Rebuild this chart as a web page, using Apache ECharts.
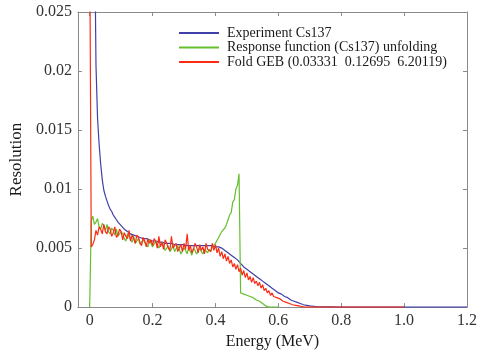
<!DOCTYPE html>
<html>
<head>
<meta charset="utf-8">
<script src="https://cdn.jsdelivr.net/npm/echarts@6/dist/echarts.min.js"></script>
<style>
  html, body { margin: 0; padding: 0; background: #fff; }
  #chart { width: 480px; height: 355px; }
</style>
</head>
<body>
<div id="chart"></div>
<script>
// channel grid, 0.005 MeV per channel
const step = 0.005;
const energy = Array.from({ length: 201 }, (_, i) => +(i * step).toFixed(3));

// tick labels
const xTicks = [0, 0.2, 0.4, 0.6, 0.8, 1.0, 1.2];
const xTickLabels = ['0', '0.2', '0.4', '0.6', '0.8', '1.0', '1.2'];
const yTicks = [0, 0.005, 0.01, 0.015, 0.02, 0.025];
const yTickLabels = ['0', '0.005', '0.01', '0.015', '0.02', '0.025'];

const names = [
  'Experiment Cs137',
  'Response function (Cs137) unfolding',
  'Fold GEB (0.03331  0.12695  6.20119)'
];

// Experiment Cs137 (own energies)
const blueEnergy = [
  0.015, 0.02, 0.025, 0.03, 0.035, 0.04, 0.045, 0.05, 0.055, 0.06,
  0.065, 0.07, 0.075, 0.08, 0.085, 0.09, 0.095, 0.1, 0.105, 0.11,
  0.115, 0.12, 0.125, 0.13, 0.135, 0.14,
  0.15, 0.16, 0.17, 0.18, 0.19, 0.2, 0.21, 0.22, 0.23, 0.24,
  0.25, 0.26, 0.27, 0.28, 0.29, 0.3, 0.31, 0.32, 0.33, 0.34,
  0.35, 0.36, 0.37, 0.38, 0.39, 0.4, 0.41, 0.42, 0.43, 0.44,
  0.45, 0.46, 0.47, 0.48, 0.49, 0.5, 0.51, 0.52, 0.53, 0.54,
  0.55, 0.56, 0.57, 0.58, 0.59, 0.6, 0.61, 0.62, 0.63, 0.64,
  0.65, 0.66, 0.67, 0.68, 0.69, 0.7,
  0.72, 0.74, 0.76, 0.8, 0.9, 1.0, 1.1, 1.2
];
const blueValue = [
  0.034, 0.0205, 0.0160, 0.0138, 0.0121, 0.0108, 0.0099, 0.0094, 0.0090, 0.0086,
  0.0083, 0.0081, 0.0078, 0.0076, 0.0074, 0.0072, 0.0071, 0.0069, 0.0068, 0.0066,
  0.0065, 0.0064, 0.0063, 0.0062, 0.0062, 0.0061,
  0.0060, 0.0059, 0.0058, 0.0058, 0.0057, 0.0056, 0.0056, 0.0055, 0.0055, 0.0054,
  0.0054, 0.0054, 0.0053, 0.0053, 0.0053, 0.0053, 0.0052, 0.0052, 0.0052, 0.0052,
  0.0052, 0.0052, 0.0052, 0.0052, 0.0052, 0.0051, 0.0051, 0.0050, 0.0048, 0.0046,
  0.0044, 0.0042, 0.0040, 0.0037, 0.0034, 0.0032, 0.0030, 0.0028, 0.0026, 0.0024,
  0.0022, 0.0020, 0.0018, 0.0016, 0.0014, 0.0012, 0.0011, 0.0009, 0.0008, 0.0006,
  0.0005, 0.0004, 0.0003, 0.0002, 0.00015, 0.0001,
  0.00005, 0.00003, 0.00002, 0, 0, 0, 0, 0
];

// Response function unfolding, channels 0 .. 0.6 MeV
const greenValue = [
  0, 0.0073, 0.0077, 0.0070, 0.0072, 0.0075, 0.0068, 0.0066, 0.0071, 0.0069,
  0.0065, 0.0070, 0.0064, 0.0062, 0.0067, 0.0065, 0.0061, 0.0066, 0.0060, 0.0059,
  0.0064, 0.0062, 0.0058, 0.0056, 0.0062, 0.0060, 0.0057, 0.0055, 0.0060, 0.0054,
  0.0056, 0.0058, 0.0053, 0.0052, 0.0057, 0.0055, 0.0053, 0.0051, 0.0057, 0.0054,
  0.0051, 0.0050, 0.0056, 0.0053, 0.0050, 0.0049, 0.0055, 0.0052, 0.0048, 0.0050,
  0.0052, 0.0047, 0.0049, 0.0053, 0.0047, 0.0046, 0.0052, 0.0049, 0.0045, 0.0046,
  0.0050, 0.0048, 0.0045, 0.0051, 0.0047, 0.0044, 0.0050, 0.0048, 0.0045, 0.0044,
  0.0050, 0.0047, 0.0045, 0.0049, 0.0050, 0.0046, 0.0049, 0.0047, 0.0051, 0.0050,
  0.0054, 0.0053, 0.0059, 0.0058, 0.0064, 0.0063, 0.0067, 0.0070, 0.0069, 0.0078,
  0.0080, 0.0089, 0.0091, 0.0100, 0.0103, 0.0113, 0.0012, 0.0012, 0.0011, 0.0011,
  0.0010, 0.0010, 0.0009, 0.0008, 0.0008, 0.0007, 0.0006, 0.0005, 0.0005, 0.0004,
  0.0003, 0.0002, 0.0001, 0.00005, 0, 0, 0, 0, 0, 0, 0
];

// Fold GEB, channels 0 .. 0.75 MeV, then flat tail
const redValue = [
  0.032, 0.0051, 0.0053, 0.0057, 0.0065, 0.0061, 0.0068, 0.0066, 0.0062, 0.0070,
  0.0064, 0.0062, 0.0068, 0.0066, 0.0060, 0.0063, 0.0068, 0.0059, 0.0061, 0.0066,
  0.0064, 0.0057, 0.0063, 0.0060, 0.0058, 0.0065, 0.0056, 0.0061, 0.0058, 0.0054,
  0.0061, 0.0059, 0.0055, 0.0052, 0.0059, 0.0056, 0.0051, 0.0058, 0.0054, 0.0057,
  0.0052, 0.0058, 0.0056, 0.0050, 0.0060, 0.0051, 0.0055, 0.0049, 0.0057, 0.0054,
  0.0050, 0.0048, 0.0060, 0.0050, 0.0052, 0.0054, 0.0047, 0.0050, 0.0053, 0.0047,
  0.0054, 0.0049, 0.0062, 0.0048, 0.0052, 0.0046, 0.0049, 0.0054, 0.0051, 0.0046,
  0.0053, 0.0048, 0.0051, 0.0045, 0.0054, 0.0049, 0.0050, 0.0047, 0.0054, 0.0048,
  0.0053, 0.0046, 0.0050, 0.0043, 0.0047, 0.0041, 0.0045, 0.0039, 0.0043, 0.0037,
  0.0040, 0.0034, 0.0037, 0.0032, 0.0036, 0.0030, 0.0033, 0.0027, 0.0031, 0.0025,
  0.0029, 0.0023, 0.0026, 0.0021, 0.0025, 0.0020, 0.0022, 0.0018, 0.0021, 0.0016,
  0.0019, 0.0014, 0.0016, 0.0012, 0.0014, 0.0010, 0.0012, 0.0009, 0.0010, 0.0008,
  0.0009, 0.0007, 0.0007, 0.0005, 0.0006, 0.0004, 0.0004, 0.0003, 0.0003, 0.0002,
  0.0002, 0.00015, 0.0001, 0.0001, 0.00005, 0.00005, 0, 0, 0, 0,
  0, 0, 0, 0, 0, 0, 0, 0, 0, 0, 0
];
const redTailEnergy = [0.8, 0.9, 1.0];
const redTailValue = [0, 0, 0];

const colors = ['#4040a8', '#66bf2e', '#fa2c14'];
const font = 'Liberation Serif';
const axisGray = '#8a8a8a';

function pickLabel(ticks, labels) {
  return (v) => {
    const i = ticks.findIndex((t) => Math.abs(t - v) < 1e-9);
    return i >= 0 ? labels[i] : '';
  };
}

function frameAxis(pos, ticks, min, max) {
  return {
    type: 'value', position: pos, min: min, max: max,
    axisLine: { show: true, onZero: false, lineStyle: { color: axisGray, width: 1 } },
    axisTick: { show: true, inside: true, length: 4, customValues: ticks, lineStyle: { color: axisGray } },
    axisLabel: { show: false },
    splitLine: { show: false }
  };
}

const chart = echarts.init(document.getElementById('chart'));

const option = {
  animation: false,
  backgroundColor: '#fff',
  color: colors,
  textStyle: { fontFamily: font },
  grid: { left: 72, right: 12, top: 12, bottom: 44 },
  legend: {
    orient: 'vertical',
    left: 173,
    top: 21,
    itemWidth: 40,
    itemHeight: 14,
    itemGap: 0.5,
    data: names,
    itemStyle: { opacity: 0 },
    textStyle: { fontFamily: font, fontSize: 14, color: '#1a1a1a', padding: [0, 0, 0, 3] }
  },
  xAxis: [
    {
      type: 'value', min: -0.0375, max: 1.2, position: 'bottom',
      name: 'Energy (MeV)', nameLocation: 'middle', nameGap: 26,
      nameTextStyle: { fontFamily: font, fontSize: 16, color: '#1a1a1a' },
      axisLine: { show: true, onZero: false, lineStyle: { color: axisGray, width: 1 } },
      axisTick: { show: true, inside: true, length: 4, customValues: xTicks, lineStyle: { color: axisGray } },
      axisLabel: {
        customValues: xTicks, margin: 6,
        formatter: pickLabel(xTicks, xTickLabels),
        fontFamily: font, fontSize: 16, color: '#333'
      },
      splitLine: { show: false }
    },
    frameAxis('top', xTicks, -0.0375, 1.2)
  ],
  yAxis: [
    {
      type: 'value', min: 0, max: 0.025, interval: 0.005, position: 'left',
      name: 'Resolution', nameLocation: 'middle', nameGap: 47,
      nameTextStyle: { fontFamily: font, fontSize: 17, color: '#1a1a1a' },
      axisLine: { show: true, onZero: false, lineStyle: { color: axisGray, width: 1 } },
      axisTick: { show: true, inside: true, length: 4, lineStyle: { color: axisGray } },
      axisLabel: {
        margin: 6,
        formatter: pickLabel(yTicks, yTickLabels),
        fontFamily: font, fontSize: 16, color: '#333'
      },
      splitLine: { show: false }
    },
    frameAxis('right', yTicks, 0, 0.025)
  ],
  series: [
    {
      name: names[0], type: 'line', symbol: 'none', clip: true,
      lineStyle: { width: 1.2, color: colors[0] },
      data: blueEnergy.map((e, i) => [e, blueValue[i]])
    },
    {
      name: names[1], type: 'line', symbol: 'none', clip: true,
      lineStyle: { width: 1.2, color: colors[1] },
      data: greenValue.map((v, i) => [energy[i], v])
    },
    {
      name: names[2], type: 'line', symbol: 'none', clip: true,
      lineStyle: { width: 1.2, color: colors[2] },
      data: redValue.map((v, i) => [energy[i], v])
        .concat(redTailEnergy.map((e, i) => [e, redTailValue[i]]))
    }
  ]
};

chart.setOption(option);
</script>
</body>
</html>
